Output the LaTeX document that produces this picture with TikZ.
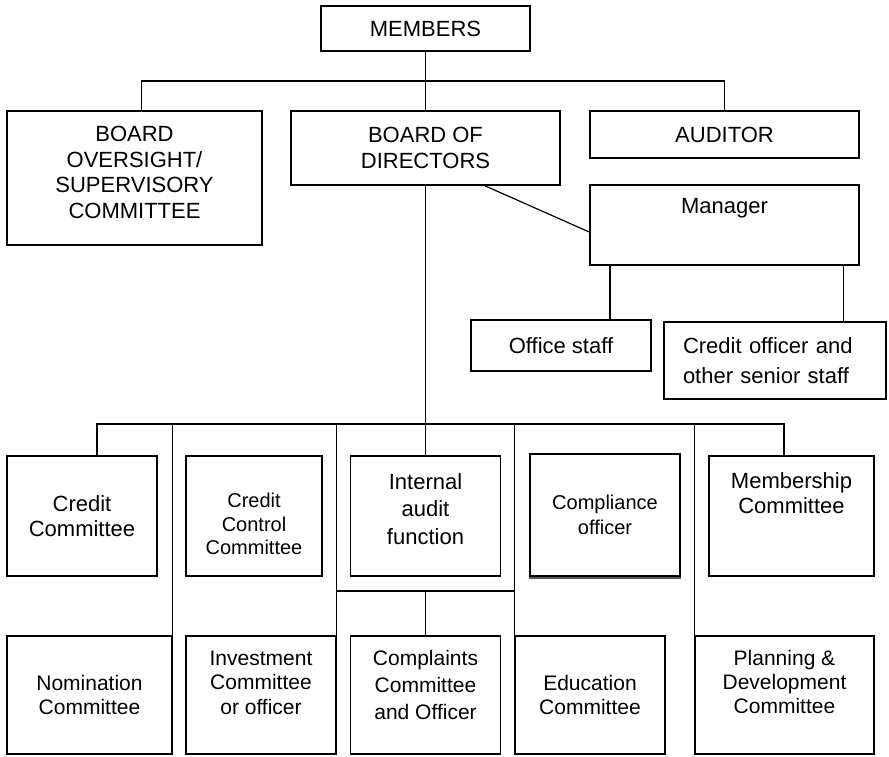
\documentclass[tikz,border=0pt]{standalone}
\usepackage{fontspec}
\setmainfont{Liberation Sans}
\begin{document}
\begin{tikzpicture}[
    x=0.5pt, y=-0.5pt,
    box/.style = {draw, line width=0.8pt, inner sep=0pt, align=center,
                  font=\fontsize{11}{12.6}\selectfont},
    sbox/.style = {box, font=\fontsize{10}{12.6}\selectfont},
    lbox/.style = {box, minimum height=59pt, font=\fontsize{10.5}{12.2}\selectfont},
    txt/.style = {align=center, inner sep=0pt, font=\fontsize{11}{12.6}\selectfont},
    wire/.style = {line width=0.6pt}
  ]
  \useasboundingbox (0,0) rectangle (889,756);

  % top of the tree
  \node[box, minimum width=104.5pt, minimum height=22.5pt] (mem) at (425.5,28.5) {MEMBERS};
  \node[box, minimum width=127.5pt, minimum height=67pt,
        label={[txt, font=\fontsize{11}{12.75}\selectfont, yshift=2.75pt]center:BOARD\\OVERSIGHT/\\SUPERVISORY\\COMMITTEE}]
        (bov) at (134.5,178) {};
  \node[box, minimum width=134.5pt, minimum height=37pt] (bod) at (425.5,148) {BOARD OF\\DIRECTORS};
  \node[box, minimum width=134.5pt, minimum height=23.5pt] (aud) at (724.5,134.5) {AUDITOR};

  % management side
  \node[box, minimum width=134.5pt, minimum height=40pt,
        label={[txt, yshift=8.5pt]center:Manager}] (mgr) at (724.5,225) {};
  \node[box, minimum width=90pt, minimum height=25.5pt] (off) at (561,345.5) {Office staff};
  \node[box, minimum width=111pt, minimum height=38.5pt, text width=92pt, align=left,
        font=\fontsize{11}{15}\selectfont] (cro) at (775,360.5) {Credit officer and\\other senior staff};

  % committees, first row
  \node[box, minimum width=75pt, minimum height=60pt] (cc) at (82,516) {Credit\\Committee};
  \node[sbox, minimum width=68pt, minimum height=60pt,
        label={[txt, font=\fontsize{10}{11.8}\selectfont, yshift=-4pt]center:Credit\\Control\\Committee}]
        (ccc) at (254,516) {};
  \node[box, minimum width=75pt, minimum height=60pt,
        label={[txt, font=\fontsize{11}{13.7}\selectfont, yshift=3.5pt]center:Internal\\audit\\function}]
        (iaf) at (425.5,516) {};
  \node[sbox, minimum width=75pt, minimum height=61pt] (cpl) at (605,515) {Compliance\\officer};
  \node[box, minimum width=82.5pt, minimum height=60pt,
        label={[txt, font=\fontsize{11}{12.8}\selectfont, yshift=11.5pt]center:Membership\\Committee}]
        (msc) at (791.5,516) {};

  % committees, second row
  \node[lbox, minimum width=82.5pt] (nom) at (89.5,695) {Nomination\\Committee};
  \node[lbox, minimum width=75pt,
        label={[txt, font=\fontsize{10.5}{12.2}\selectfont, yshift=6.2pt]center:Investment\\Committee\\or officer}]
        (inv) at (261,695) {};
  \node[lbox, minimum width=75pt,
        label={[txt, font=\fontsize{10.5}{13.5}\selectfont, yshift=4.8pt]center:Complaints\\Committee\\and Officer}]
        (cmp) at (425.5,695) {};
  \node[lbox, minimum width=75pt] (edu) at (590,695) {Education\\Committee};
  \node[lbox, minimum width=89.5pt,
        label={[txt, font=\fontsize{10.5}{12.2}\selectfont, yshift=6.5pt]center:Planning \&\\Development\\Committee}]
        (pln) at (784.5,695) {};

  % heavier lower edge on the compliance box
  \draw[line width=1.2pt, black!65] ([yshift=-0.7pt]cpl.south west) -- ([yshift=-0.7pt]cpl.south east);

  % bus lines
  \coordinate (top) at (425.5,81);
  \coordinate (low) at (425.5,424);
  \coordinate (mid) at (425.5,591);
  \coordinate (m1) at ([xshift=-57.25pt]mgr.south);
  \coordinate (m2) at ([xshift=59.4pt]mgr.south);

  \draw[wire] (mem) -- (bod);
  \draw[wire] ([xshift=3.6pt]bov.north) |- (top) -| (aud.north);
  \draw[wire] (bod) -- (iaf);
  \draw[wire] ([xshift=29.75pt]bod.south) -- ([yshift=-3.5pt]mgr.west);
  \draw[wire] (m1) -- (m1 |- off.north);
  \draw[wire] (m2) -- (m2 |- cro.north);

  \draw[wire] ([xshift=7.5pt]cc.north) |- (low) -| ([xshift=-3.75pt]msc.north);
  \draw[wire] (nom.north east) -- (nom.north east |- low);
  \draw[wire] (inv.north east) -- (inv.north east |- low);
  \draw[wire] (edu.north west) -- (edu.north west |- low);
  \draw[wire] (pln.north west) -- (pln.north west |- low);
  \draw[wire] (inv.north east |- mid) -- (edu.north west |- mid);
  \draw[wire] (mid) -- (cmp);
\end{tikzpicture}
\end{document}
